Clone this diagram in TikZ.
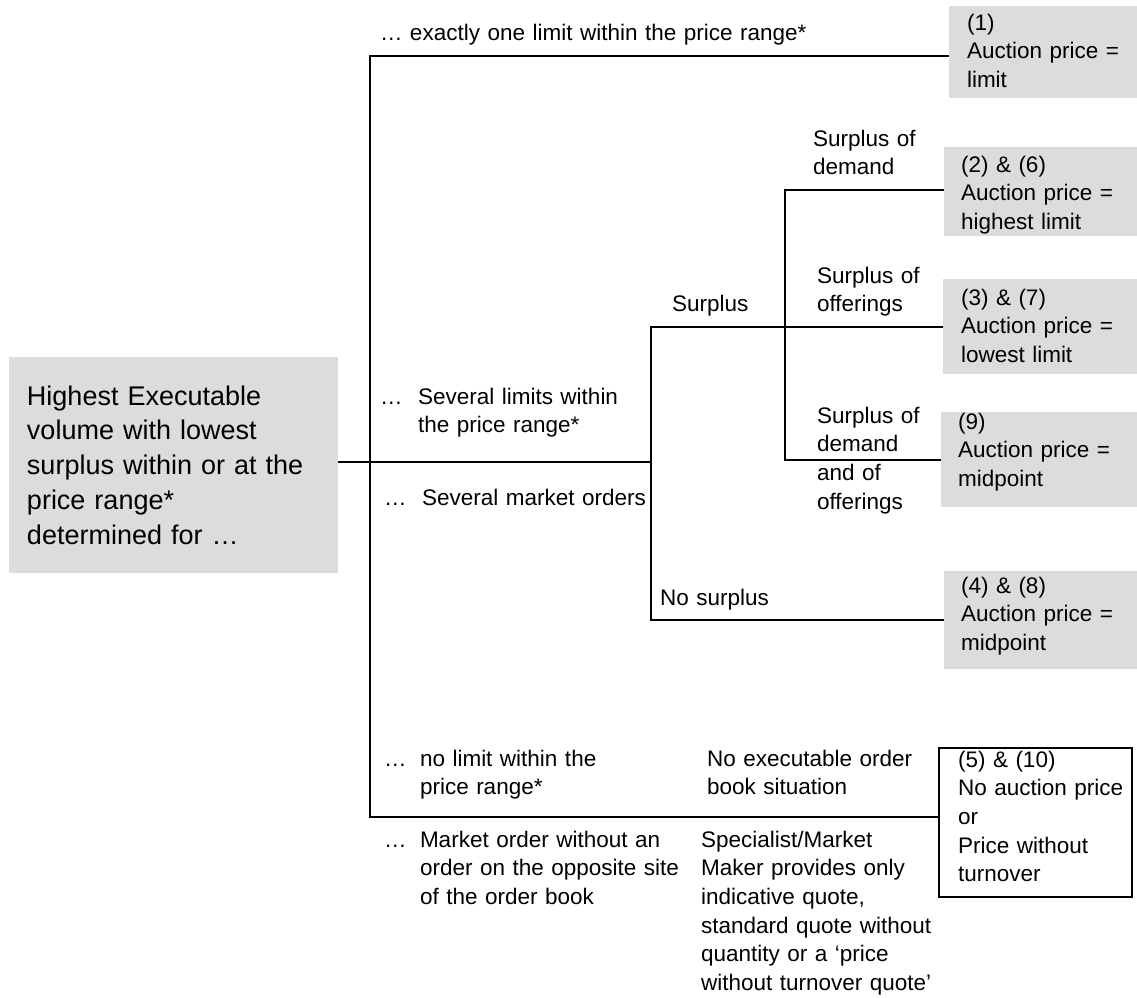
\documentclass[tikz,border=0pt]{standalone}
\usepackage{fontspec}
\setmainfont{Liberation Sans}
\definecolor{boxgray}{RGB}{220,220,220}
\begin{document}
\begin{tikzpicture}[x=1pt,y=-1pt,
  lbl/.style={anchor=base west,inner sep=0pt,outer sep=0pt,align=left,text width=520pt,font=\fontsize{22.5}{28.7}\selectfont},
  mainlbl/.style={lbl,font=\fontsize{27}{34.8}\selectfont},
  gbox/.style={fill=boxgray,draw=none,inner sep=0pt,outer sep=0pt,anchor=north west},
  wbox/.style={fill=white,draw=black,line width=2pt,inner sep=0pt,outer sep=0pt,anchor=north west},
  trunk/.style={line width=2.5pt,line join=miter},
  twig/.style={line width=1.6pt,line join=miter}]
\useasboundingbox (0,0) rectangle (1137,997);

% boxes
\node[gbox,minimum width=329pt,minimum height=216pt] (main) at (9,357) {};
\node[gbox,minimum width=188pt,minimum height=92pt] (b1) at (949,6) {};
\node[gbox,minimum width=193pt,minimum height=89pt] (b2) at (944,147) {};
\node[gbox,minimum width=194pt,minimum height=95pt] (b3) at (943,279) {};
\node[gbox,minimum width=196pt,minimum height=95pt] (b9) at (941,412) {};
\node[gbox,minimum width=193pt,minimum height=98pt] (b4) at (944,571) {};
\node[wbox,minimum width=193pt,minimum height=149pt] (b5) at (939,748) {};

% box texts
\node[mainlbl] (maint) at (27,405) {Highest Executable\\volume with lowest\\surplus within or at the\\price range*\\determined for …};
\node[lbl] (t1) at (967,30) {(1)\\Auction price =\\limit};
\node[lbl] (t2) at (961,172) {(2) \& (6)\\Auction price =\\highest limit};
\node[lbl] (t3) at (961,305) {(3) \& (7)\\Auction price =\\lowest limit};
\node[lbl] (t9) at (958,429) {(9)\\Auction price =\\midpoint};
\node[lbl] (t4) at (961,593) {(4) \& (8)\\Auction price =\\midpoint};
\node[lbl] (t5) at (958,767) {(5) \& (10)\\No auction price\\or\\Price without\\turnover};

% branch labels
\node[lbl] (l1) at (380,40) {… exactly one limit within the price range*};
\node[lbl] (d2) at (380,404) {…};
\node[lbl] (l2) at (418,404) {Several limits within\\the price range*};
\node[lbl] (d3) at (384,505) {…};
\node[lbl] (l3) at (422,505) {Several market orders};
\node[lbl] (d4) at (384,766) {…};
\node[lbl] (l4) at (420,766) {no limit within the\\price range*};
\node[lbl] (d5) at (384,847) {…};
\node[lbl] (l5) at (420,847) {Market order without an\\order on the opposite site\\of the order book};
\node[lbl] (l6) at (707,766) {No executable order\\book situation};
\node[lbl] (l7) at (701,847) {Specialist/Market\\Maker provides only\\indicative quote,\\standard quote without\\quantity or a ‘price\\without turnover quote’};
\node[lbl] (s0) at (672,311) {Surplus};
\node[lbl] (s1) at (813,146) {Surplus of\\demand};
\node[lbl] (s2) at (817,283) {Surplus of\\offerings};
\node[lbl] (s3) at (817,423) {Surplus of\\demand\\and of\\offerings};
\node[lbl] (s4) at (660,605) {No surplus};

% junctions
\coordinate (jtop) at (370,56);
\coordinate (jbot) at (370,817);
\coordinate (jmain) at (370,462);
\coordinate (j2) at (651,462);
\coordinate (j2top) at (651,327);
\coordinate (j2bot) at (651,620);
\coordinate (j3) at (785,327);
\coordinate (j3top) at (785,190);
\coordinate (j3bot) at (785,460);

% connectors
\draw[trunk] (jtop -| b1.west) -- (jtop) -- (jbot) -- (jbot -| b5.west);
\draw[trunk] (jmain -| main.east) -- (j2);
\draw[trunk] (j3) -- (j2top) -- (j2bot) -- (j2bot -| b4.west);
\draw[twig] (j3) -- (j3 -| b3.west);
\draw[twig] (j3top -| b2.west) -- (j3top) -- (j3bot) -- (j3bot -| b9.west);
\end{tikzpicture}
\end{document}
